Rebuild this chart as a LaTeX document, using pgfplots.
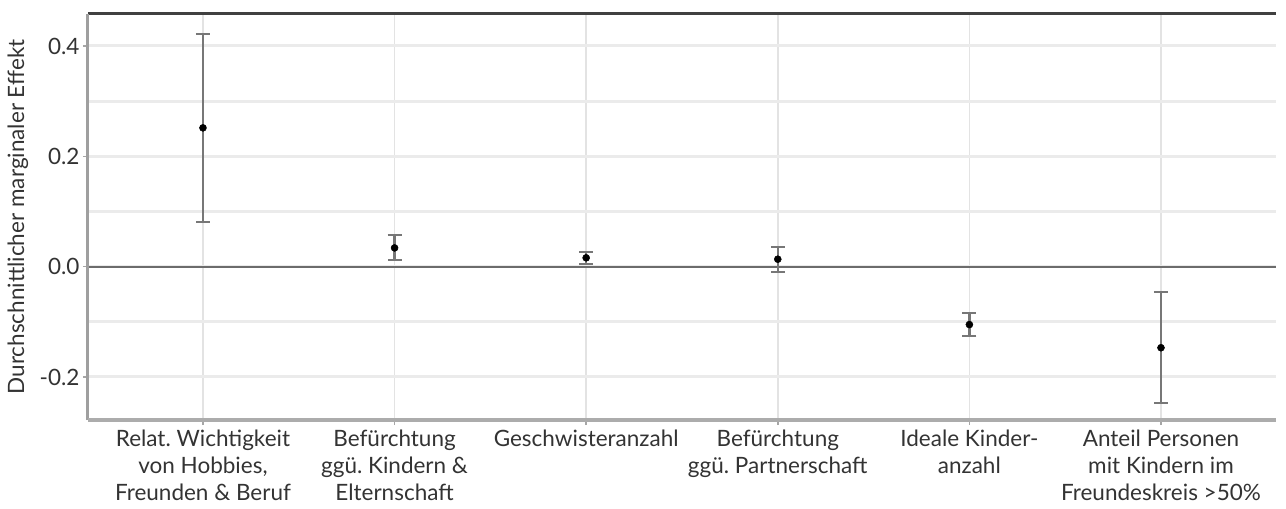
\documentclass[border=0pt]{standalone}
\usepackage{pgfplots}
\pgfplotsset{compat=1.18}
\usepackage{pgfplotstable}
\usepackage{fontspec}
\setmainfont{Lato}
\frenchspacing
\definecolor{txt}{HTML}{333333}
\definecolor{hgrid}{HTML}{EBEBEB}
\definecolor{vgrid}{HTML}{E3E3E3}
\definecolor{err}{HTML}{777777}
\pgfplotstableread{
x y e
0 0.2516 0.170
1 0.0340 0.0225
2 0.0160 0.0110
3 0.0135 0.0225
4 -0.1050 0.0210
5 -0.1470 0.1005
}\effects
\begin{document}
\begin{tikzpicture}
\path[use as bounding box] (-88bp,-89bp) rectangle (1198bp,420bp);
\begin{axis}[
  scale only axis,
  width=1188bp, height=406bp,
  xmin=-0.6, xmax=5.6,
  ymin=-0.278, ymax=0.458,
  axis line style={draw=none},
  xtick=data,
  xticklabels={{Relat.\ Wichtigkeit\\von Hobbies,\\Freunden \& Beruf},
               {Befürchtung\\ggü.\ Kindern \&\\Elternschaft},
               {Geschwisteranzahl},
               {Befürchtung\\ggü.\ Partnerschaft},
               {Ideale Kinder-\\anzahl},
               {Anteil Personen\\mit Kindern im\\Freundeskreis >50\%}},
  xticklabel style={align=center, font=\fontsize{22.5bp}{27bp}\selectfont, text=txt, anchor=north, yshift=-1bp},
  ytick={-0.2,0,0.2,0.4},
  yticklabels={-0.2,0.0,0.2,0.4},
  minor ytick={-0.1,0.1,0.3},
  yticklabel style={font=\fontsize{22.5bp}{27bp}\selectfont, text=txt},
  ylabel={Durchschnittlicher marginaler Effekt},
  ylabel style={font=\fontsize{22.5bp}{27bp}\selectfont, text=txt, at={(rel axis cs:0,0.5)}, anchor=center, yshift=70bp},
  tick align=outside,
  major tick length=5bp,
  minor tick length=0pt,
  tick style={draw=gray!70, line width=1.5bp},
  xtick pos=bottom, ytick pos=left,
  ymajorgrids, yminorgrids, xmajorgrids,
  y grid style={draw=hgrid, line width=3bp},
  minor y grid style={draw=hgrid, line width=3bp},
  x grid style={draw=vgrid, line width=1.5bp},
  clip=false,
]
\draw[draw=gray!85!black, line width=2bp] (axis cs:-0.6,0) -- (axis cs:5.6,0);
\addplot[draw=err, line width=2.5bp, only marks,
  mark=*, mark size=3.5bp, mark options={fill=black, draw=black, line width=0.5bp},
  error bars/.cd, y dir=both, y explicit,
  error mark=-, error mark options={draw=err, line width=2bp, mark size=7bp, rotate=90},
  error bar style={draw=err, line width=2.5bp}]
  table[x=x, y=y, y error=e] {\effects};
\draw[draw=black!75, line width=3bp] (rel axis cs:0,1) -- (rel axis cs:1,1);
\draw[draw=gray!75, line width=3bp] (rel axis cs:0,0) -- (rel axis cs:0,1);
\draw[draw=gray!65, line width=4bp] (rel axis cs:0,0) -- (rel axis cs:1,0);
\end{axis}
\end{tikzpicture}
\end{document}
